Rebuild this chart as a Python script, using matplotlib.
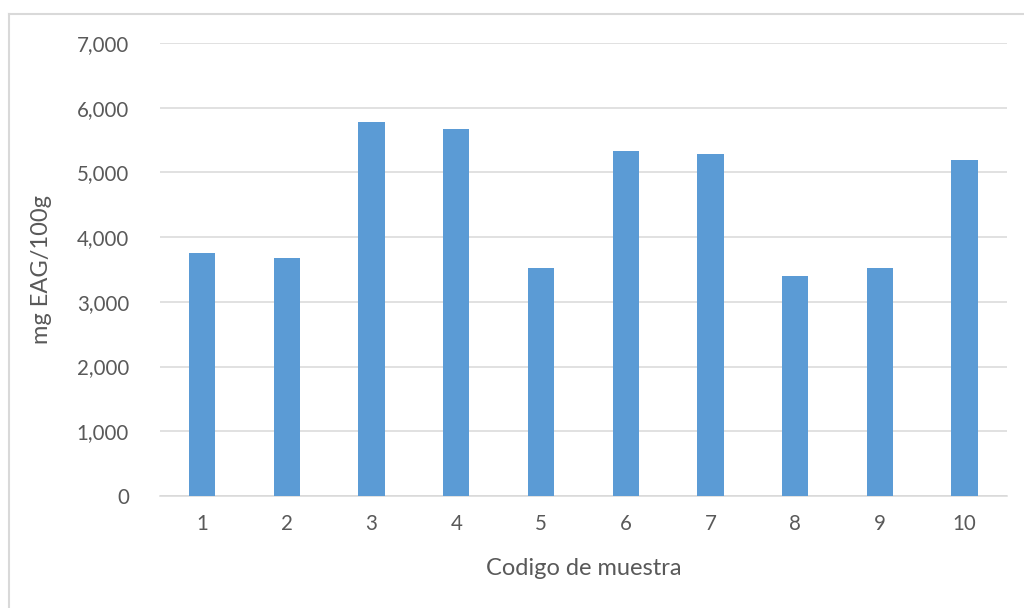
import matplotlib.pyplot as plt
from matplotlib.lines import Line2D
from matplotlib.ticker import FuncFormatter

# Sample codes and measured values (mg EAG/100g)
muestras = ['1', '2', '3', '4', '5', '6', '7', '8', '9', '10']
valores = [3748, 3671, 5784, 5675, 3522, 5331, 5289, 3393, 3521, 5192]

plt.rcParams['font.family'] = ['Lato', 'DejaVu Sans']
txt = '#595959'
grid = '#d9d9d9'

fig = plt.figure(figsize=(10.24, 6.08), dpi=100)
ax = fig.add_axes([0.1559, 0.1842, 0.8275, 0.7451])

x = range(len(muestras))
ax.bar(x, valores, width=0.31, color='#5b9bd5', zorder=3)

ax.set_xlim(-0.5, len(muestras) - 0.5)
ax.set_ylim(0, 7000)
ax.set_yticks(range(0, 7001, 1000))
ax.yaxis.set_major_formatter(FuncFormatter(lambda v, p: f'{int(v):,}'))
ax.set_xticks(list(x))
ax.set_xticklabels(muestras)

ax.grid(axis='y', color=grid, linewidth=1.1, zorder=0)
for s in ['top', 'right', 'left']:
    ax.spines[s].set_visible(False)
ax.spines['bottom'].set_color(grid)
ax.spines['bottom'].set_linewidth(1.1)
ax.tick_params(length=0, labelsize=14.8, colors=txt)
ax.tick_params(axis='y', pad=22)
ax.tick_params(axis='x', pad=13)

ax.set_xlabel('Codigo de muestra', fontsize=17, color=txt, labelpad=17)
ax.set_ylabel('mg EAG/100g', fontsize=17, color=txt, labelpad=18)

# chart frame (left and top edges visible)
fig.add_artist(Line2D([8.5 / 1024, 8.5 / 1024], [0, 1 - 13.5 / 608],
                     color=grid, linewidth=1.5, transform=fig.transFigure))
fig.add_artist(Line2D([8.5 / 1024, 1], [1 - 13.5 / 608, 1 - 13.5 / 608],
                     color=grid, linewidth=1.5, transform=fig.transFigure))

fig.savefig('out.png', dpi=100)
